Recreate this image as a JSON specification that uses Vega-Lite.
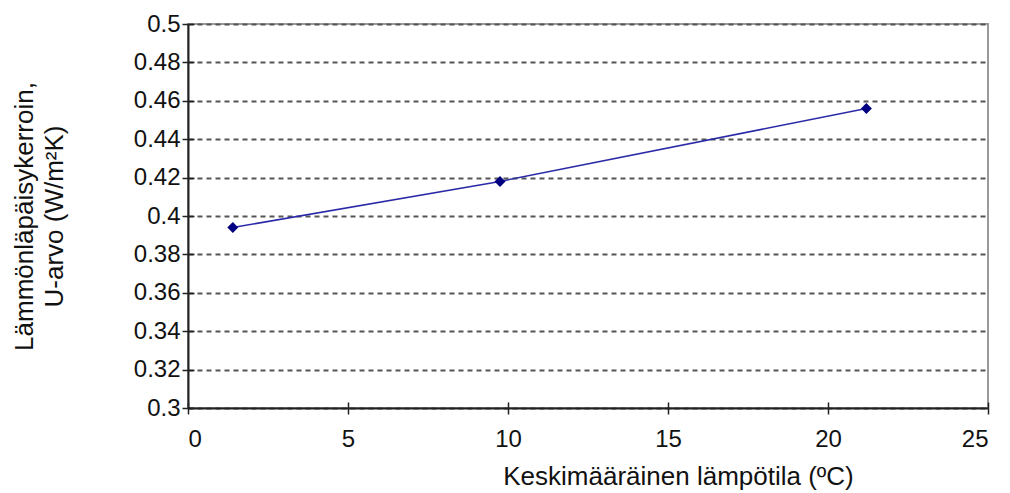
{
  "$schema": "https://vega.github.io/schema/vega-lite/v6.json",
  "width": 800,
  "height": 384,
  "autosize": "none",
  "padding": {"left": 188, "top": 24, "right": 22, "bottom": 85},
  "background": "white",
  "config": {
    "font": "Liberation Sans",
    "view": {"stroke": "#9a9a9a", "strokeWidth": 2},
    "axis": {"labelFontSize": 24, "titleFontSize": 26, "titleFontWeight": "normal", "labelColor": "#111", "titleColor": "#111", "domainColor": "#222", "tickColor": "#222", "domainWidth": 2, "tickWidth": 1.5}
  },
  "data": {"values": [
    {"t": 1.4, "u": 0.394},
    {"t": 9.75, "u": 0.418},
    {"t": 21.2, "u": 0.456}
  ]},
  "layer": [
    {
      "mark": {"type": "line", "color": "#2a2aa8", "strokeWidth": 1.5},
      "encoding": {
        "x": {"field": "t", "type": "quantitative", "scale": {"domain": [0, 25], "nice": false},
          "axis": {"values": [0, 5, 10, 15, 20, 25], "tickSize": 6, "labelPadding": 13, "grid": false,
            "title": "Keskimääräinen lämpötila (ºC)", "titleX": 490, "titlePadding": 12}},
        "y": {"field": "u", "type": "quantitative", "scale": {"domain": [0.3, 0.5], "nice": false, "zero": false},
          "axis": {"values": [0.3, 0.32, 0.34, 0.36, 0.38, 0.4, 0.42, 0.44, 0.46, 0.48, 0.5], "format": ".2~f", "tickSize": 6, "labelPadding": 2,
            "grid": true, "gridDash": [5, 4], "gridColor": "#555", "gridWidth": 2,
            "title": ["Lämmönläpäisykerroin,", "U-arvo (W/m²K)"], "titleLineHeight": 30, "titlePadding": 66}}
      }
    },
    {
      "mark": {"type": "point", "shape": "diamond", "filled": true, "color": "#000080", "size": 120, "opacity": 1},
      "encoding": {
        "x": {"field": "t", "type": "quantitative",
          "axis": {"orient": "bottom", "values": [0, 5, 10, 15, 20, 25], "tickSize": -6, "labels": false, "domain": false, "grid": false, "title": null}},
        "y": {"field": "u", "type": "quantitative",
          "axis": {"orient": "left", "values": [0.3, 0.32, 0.34, 0.36, 0.38, 0.4, 0.42, 0.44, 0.46, 0.48, 0.5], "tickSize": -6, "labels": false, "domain": false, "grid": false, "title": null}}
      }
    }
  ],
  "resolve": {"axis": {"x": "independent", "y": "independent"}}
}
